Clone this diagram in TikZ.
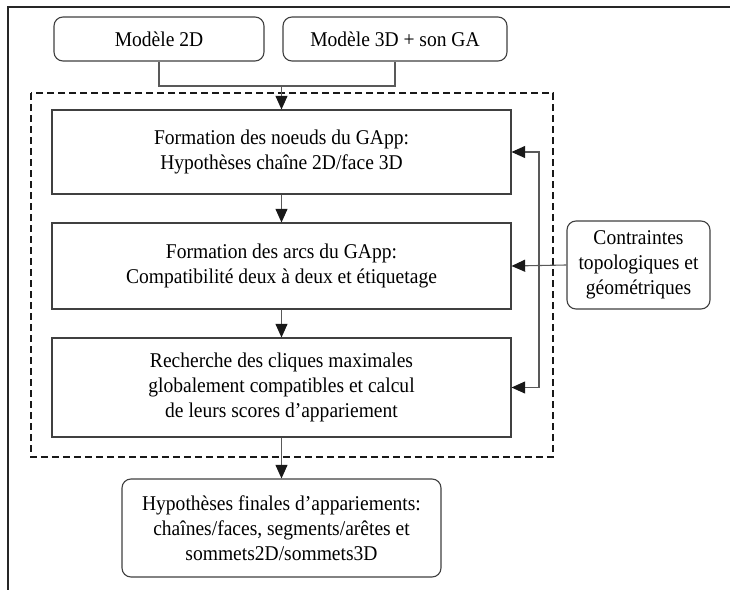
\documentclass[tikz,border=0pt]{standalone}
\usepackage{fontspec}
\setmainfont[FakeStretch=0.93]{Liberation Serif}
\usepackage{tikz}
\usetikzlibrary{arrows.meta,calc,positioning}
\tikzset{
  bx/.style={rectangle,draw=black!75,fill=white,line width=.55pt,inner sep=2pt,align=center,
    font=\fontsize{10.5}{12.5}\selectfont},
  rbx/.style={bx,rounded corners=4.5pt},
  lnk/.style={draw=black!65,line width=.55pt},
  arr/.style={-{Triangle[length=6.8pt,width=6pt,color=black!90]},line width=.55pt,draw=black!65},
  dsh/.style={draw=black!90,line width=.8pt,dash pattern=on 3.6pt off 1.9pt},
  frm/.style={draw=black!85,line width=.6pt},
}
\begin{document}
\begin{tikzpicture}[x=0.5pt,y=-0.5pt]
\useasboundingbox (0,0) rectangle (730,590);
\draw[frm] (8,590) |- (730,7);
% inputs
\node[rbx,minimum width=105pt,minimum height=22pt] (m2d) at (159,39) {Modèle 2D};
\node[rbx,minimum width=112pt,minimum height=22pt] (m3d) at (395,39) {Modèle 3D + son GA};
% the three steps of the matching
\node[bx,minimum width=229.5pt,minimum height=42pt] (f1) at (281.5,152)
  {Formation des noeuds du GApp:\\ Hypothèses chaîne 2D/face 3D};
\node[bx,minimum width=229.5pt,minimum height=43pt] (f2) at (281.5,266)
  {Formation des arcs du GApp:\\ Compatibilité deux à deux et étiquetage};
\node[bx,minimum width=229.5pt,minimum height=49.5pt] (f3) at (281.5,387.5)
  {Recherche des cliques maximales\\ globalement compatibles et calcul\\ de leurs scores d’appariement};
\draw[dsh] (31,93) rectangle (553,457);
\node[rbx,minimum width=71.5pt,minimum height=44pt] (ctr) at (638.5,265)
  {Contraintes\\ topologiques et\\ géométriques};
\node[rbx,minimum width=159.5pt,minimum height=49pt] (fin) at (281.5,528)
  {Hypothèses finales d’appariements:\\ chaînes/faces, segments/arêtes et\\ sommets2D/sommets3D};
% connectors
\coordinate (jn) at (281.5,86);
\coordinate (bus) at (539,266);
\draw[lnk] (m2d.south) |- (jn) -| (m3d.south);
\draw[arr] (jn) -- (f1.north);
\draw[arr] (f1) -- (f2);
\draw[arr] (f2) -- (f3);
\draw[arr] (f3) -- (fin);
\draw[arr] (ctr.west) -- (f2.east);
\draw[arr] (bus) |- (f1.east);
\draw[arr] (bus) |- (f3.east);
\end{tikzpicture}
\end{document}
